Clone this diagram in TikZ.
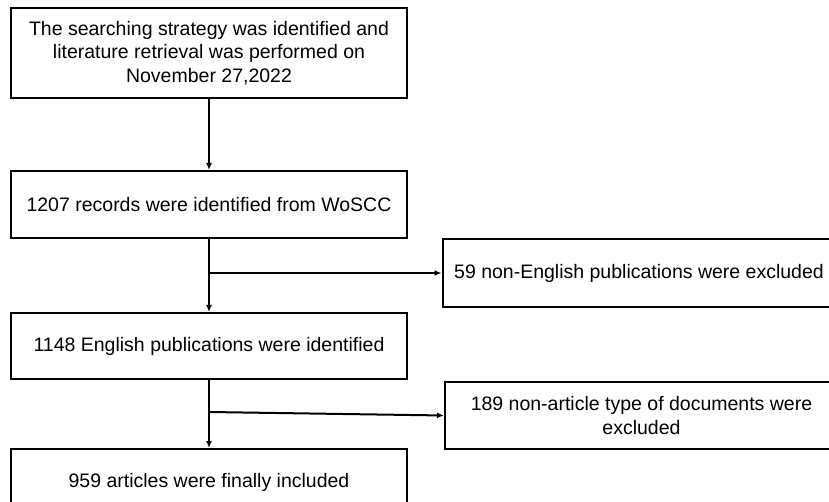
\documentclass[tikz,border=0pt]{standalone}
\usepackage{fontspec}
\setmainfont{Liberation Sans}
\usetikzlibrary{arrows.meta}

\begin{document}
\begin{tikzpicture}[x=1pt,y=-1pt,
    stagebox/.style={draw=black, line width=2pt, inner sep=0pt, align=center,
        minimum width=396pt, font=\fontsize{19.5}{23.5}\selectfont},
    exclbox/.style={stagebox, minimum width=393pt},
    flowline/.style={line width=2pt, -{Latex[length=7pt,width=6pt]}}]
    % Fix the page size
    \useasboundingbox (0,0) rectangle (829,502);
    % Draw the main column of boxes
    \node[stagebox, minimum height=90pt] (search) at (209,53) {The searching strategy was identified and\\literature retrieval was performed on\\November 27,2022};
    \node[stagebox, minimum height=67pt] (records) at (209,204.5) {1207 records were identified from WoSCC};
    \node[stagebox, minimum height=66pt] (english) at (209,346) {1148 English publications were identified};
    \node[stagebox, minimum height=66pt] (included) at (209,482) {959 articles were finally included};
    % Draw the boxes of excluded records
    \node[exclbox, minimum height=68pt] (nonenglish) at (639,273) {59 non-English publications were excluded};
    \node[exclbox, minimum height=67pt] (nonarticle) at (641.5,415.5) {189 non-article type of documents were\\excluded};
    % Branch points on the main line
    \coordinate (split1) at (209,273);
    \coordinate (split2) at (209,412);
    % Draw the arrows
    \draw[flowline] (search) -- (records);
    \draw[flowline] (records) -- (english);
    \draw[flowline] (english) -- (included);
    \draw[flowline] (split1) -- (nonenglish.west);
    \draw[flowline] (split2) -- (nonarticle.west);
\end{tikzpicture}
\end{document}
